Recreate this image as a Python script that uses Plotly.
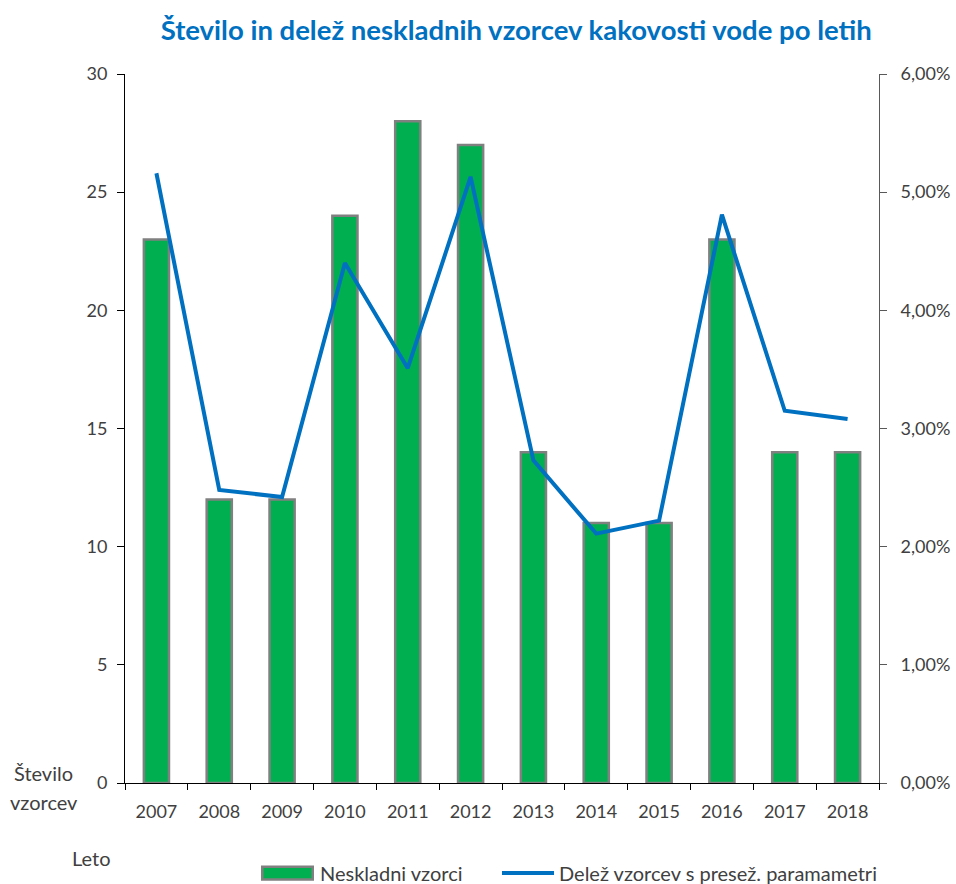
import plotly.graph_objects as go

# Data
YEARS = ["2007", "2008", "2009", "2010", "2011", "2012",
         "2013", "2014", "2015", "2016", "2017", "2018"]
NONCOMPLIANT = [23, 12, 12, 24, 28, 27, 14, 11, 11, 23, 14, 14]
SHARE = [0.0516, 0.0248, 0.0242, 0.0440, 0.0351, 0.0513,
         0.0273, 0.0211, 0.0222, 0.0481, 0.0315, 0.0308]

BAR_NAME = "Neskladni vzorci"
LINE_NAME = "Delež vzorcev s presež. paramametri"

BLUE = "#0070C0"
GREEN = "#00B050"
GRAY = "#808080"
TEXT = "#404040"
FONT = "Lato, 'Open Sans', sans-serif"

fig = go.Figure()
fig.add_trace(go.Bar(
    x=YEARS, y=NONCOMPLIANT, name=BAR_NAME,
    marker=dict(color=GREEN, line=dict(color=GRAY, width=2.5)),
    width=0.40,
))
fig.add_trace(go.Scatter(
    x=YEARS, y=SHARE, name=LINE_NAME,
    yaxis="y2", mode="lines",
    line=dict(color=BLUE, width=4),
))

fig.update_layout(
    width=956, height=884,
    plot_bgcolor="white", paper_bgcolor="white",
    font=dict(family=FONT, size=18, color=TEXT),
    margin=dict(l=125, r=77, t=74, b=101, autoexpand=False),
    showlegend=False,
    title=dict(
        text="<b>Število in delež neskladnih vzorcev kakovosti vode po letih</b>",
        font=dict(size=27.5, color=BLUE, family=FONT),
        x=0.540, xanchor="center", y=0.966, yanchor="middle",
    ),
    xaxis=dict(
        showline=True, linecolor="black", linewidth=1,
        ticks="outside", ticklen=6, tickcolor="black",
        tickson="boundaries", showgrid=False, ticklabelstandoff=12,
    ),
    yaxis=dict(
        range=[0, 30], dtick=5, showline=True, linecolor="black",
        ticks="outside", ticklen=7, tickcolor="black",
        showgrid=False, zeroline=False, ticklabelstandoff=6,
    ),
    yaxis2=dict(
        range=[0, 0.06], dtick=0.01, tickformat=".2%",
        overlaying="y", side="right", showline=True, linecolor="#595959",
        ticks="outside", ticklen=7, tickcolor="#595959",
        showgrid=False, zeroline=False, ticklabelstandoff=10,
    ),
    separators=",.",
)

# axis captions
for text, x, y in [("Število", -0.108, 0.014), ("vzorcev", -0.108, -0.027),
                   ("Leto", -0.044, -0.106)]:
    fig.add_annotation(
        text=text, xref="paper", yref="paper", x=x, y=y,
        xanchor="center", yanchor="middle", showarrow=False,
        font=dict(size=20, color=TEXT),
    )

# legend drawn below the plot, as in the original
fig.add_shape(type="rect", xref="paper", yref="paper",
              x0=0.182, x1=0.249, y0=-0.136, y1=-0.118,
              fillcolor=GREEN, line=dict(color=GRAY, width=2.5))
fig.add_annotation(text=BAR_NAME, xref="paper", yref="paper",
                   x=0.256, y=-0.127, xanchor="left", yanchor="middle",
                   showarrow=False, font=dict(size=20, color=TEXT))
fig.add_shape(type="line", xref="paper", yref="paper",
              x0=0.500, x1=0.569, y0=-0.127, y1=-0.127,
              line=dict(color=BLUE, width=4))
fig.add_annotation(text=LINE_NAME, xref="paper", yref="paper",
                   x=0.573, y=-0.127, xanchor="left", yanchor="middle",
                   showarrow=False, font=dict(size=20, color=TEXT))

# drop the page's default body margin so the figure fills the window
fig.write_html("out.html", config={"displayModeBar": False},
               post_script="document.body.style.margin='0';")
